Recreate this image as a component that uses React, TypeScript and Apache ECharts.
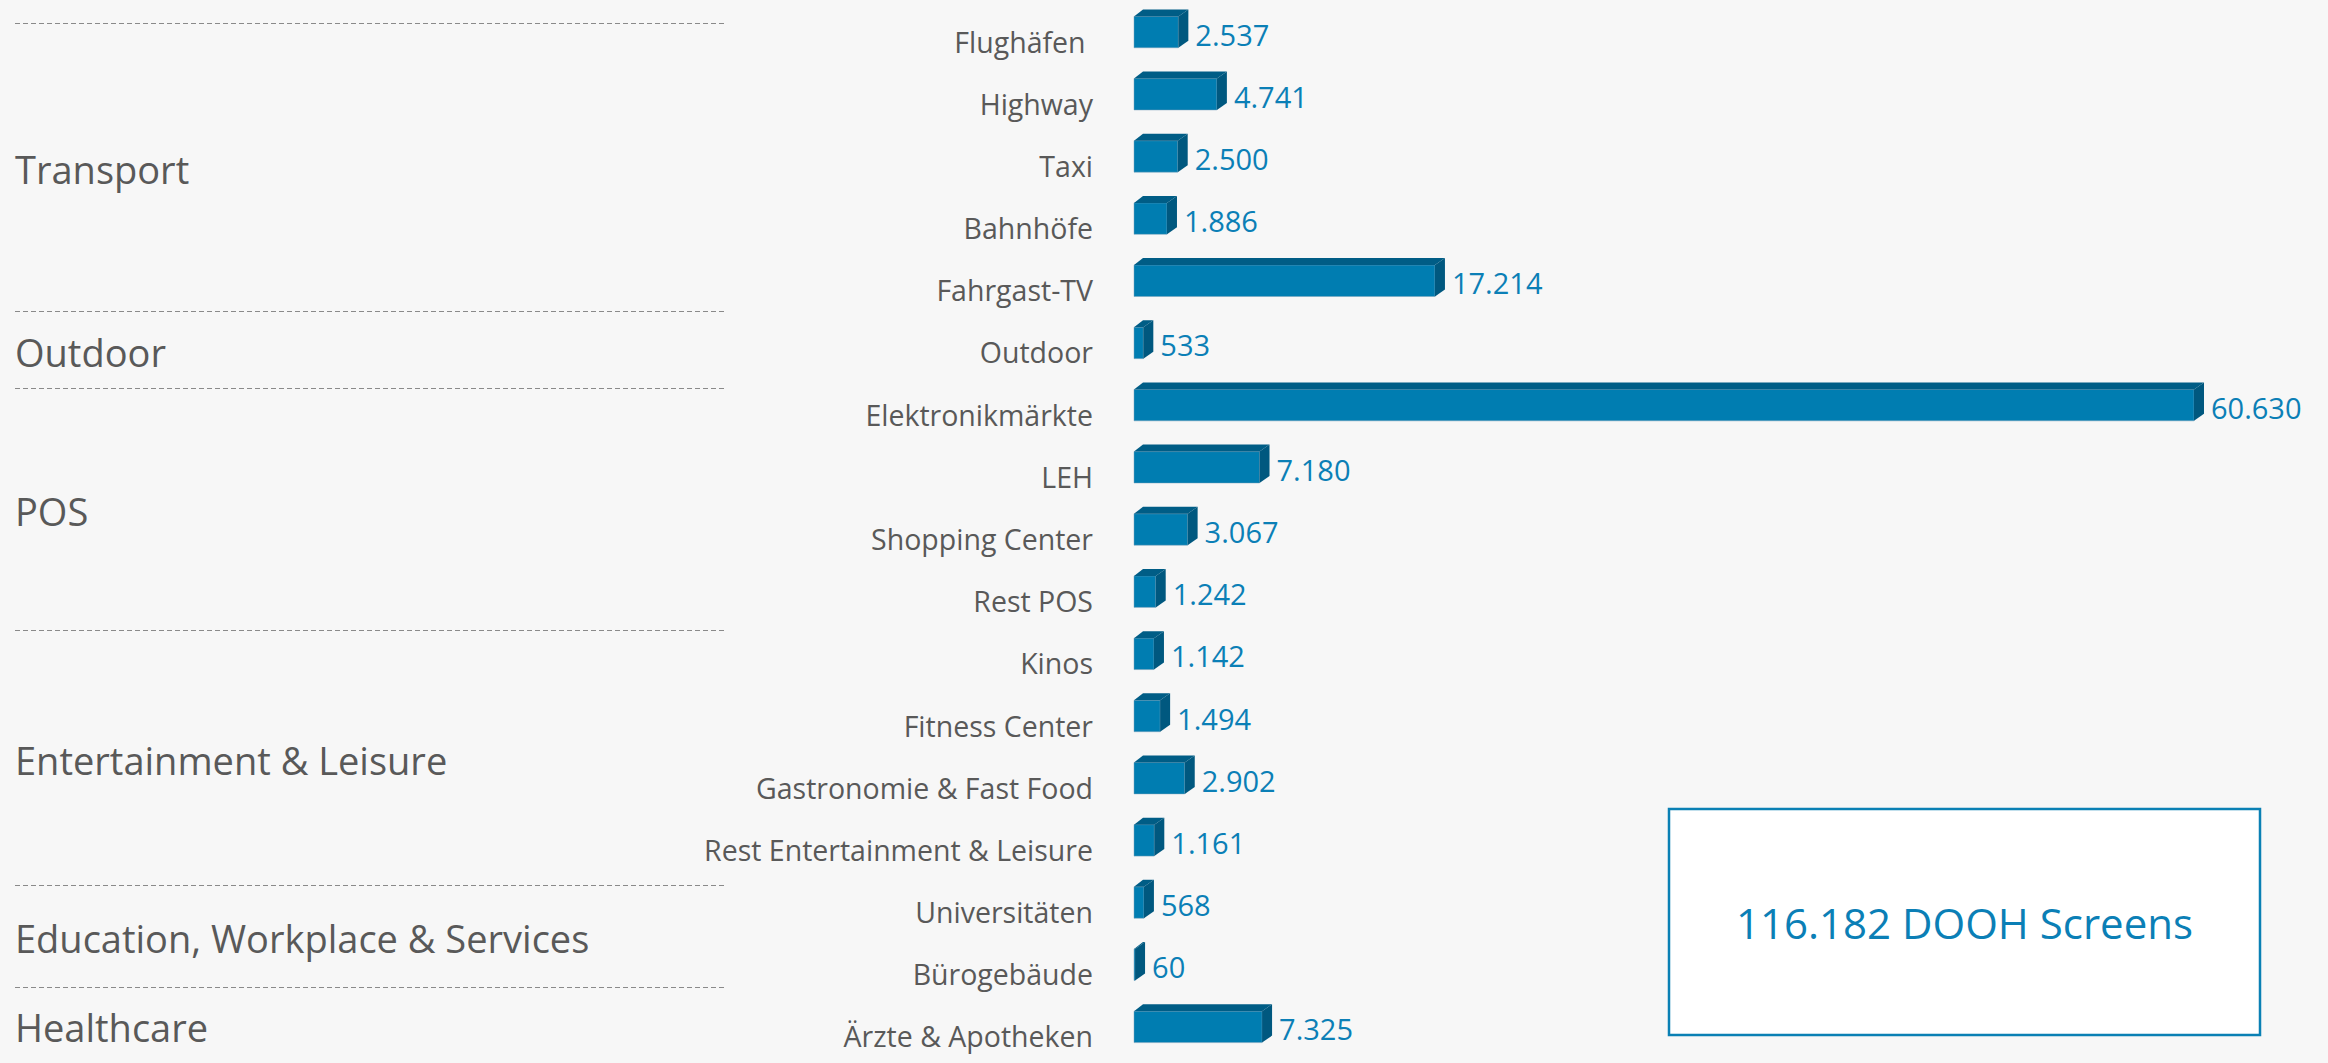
import React, { useEffect, useRef } from "react";
import * as echarts from "echarts";

// ---- data ----
const categories = [
  "Flughäfen ",
  "Highway",
  "Taxi",
  "Bahnhöfe",
  "Fahrgast-TV",
  "Outdoor",
  "Elektronikmärkte",
  "LEH",
  "Shopping Center",
  "Rest POS",
  "Kinos",
  "Fitness Center",
  "Gastronomie & Fast Food",
  "Rest Entertainment & Leisure",
  "Universitäten",
  "Bürogebäude",
  "Ärzte & Apotheken",
];
const screens = [2537, 4741, 2500, 1886, 17214, 533, 60630, 7180, 3067, 1242, 1142, 1494, 2902, 1161, 568, 60, 7325];
const groupNames = ["Transport", "Outdoor", "POS", "Entertainment & Leisure", "Education, Workplace & Services", "Healthcare"];
const groupSizes = [5, 1, 4, 4, 2, 1];
const totalSuffix = " DOOH Screens";

// ---- layout / style ----
const W = 2328;
const H = 1063;
const FONT = "'Open Sans', 'Noto Sans', sans-serif";
const BG = "#f7f7f7";
const TEXT_GREY = "#595959";
const BLUE_TEXT = "#0b7fb6";
const FRONT = "#007db1";
const TOP = "#005d86";
const SIDE = "#00587f";
const DX = 10;
const DY = 7;
const separatorY = [23, 311, 388, 630, 885, 987];
const sepX0 = 15;
const sepX1 = 727;

const fmt = (n: number) => String(Math.round(n)).replace(/\B(?=(\d{3})+(?!\d))/g, ".");

export default function App() {
  const ref = useRef<HTMLDivElement>(null);

  useEffect(() => {
    if (!ref.current) return;
    const chart = echarts.init(ref.current, undefined, { renderer: "svg" });

    const total = screens.reduce((a, b) => a + b, 0);

    const graphics: any[] = [];
    separatorY.forEach((y) => {
      graphics.push({
        type: "line",
        shape: { x1: sepX0, y1: y + 0.5, x2: sepX1, y2: y + 0.5 },
        style: { stroke: "#8a8a8a", lineWidth: 1, lineDash: [5, 3] },
        silent: true,
      });
    });
    groupNames.forEach((name, i) => {
      const y0 = separatorY[i];
      const y1 = i + 1 < separatorY.length ? separatorY[i + 1] : H;
      graphics.push({
        type: "text",
        x: 15,
        y: (y0 + y1) / 2 + 2,
        style: {
          text: name,
          fill: TEXT_GREY,
          fontSize: 38,
          fontFamily: FONT,
          align: "left",
          verticalAlign: "middle",
        },
        silent: true,
      });
    });
    // total box
    const bx = 1669, by = 809, bw = 591, bh = 226;
    graphics.push({
      type: "rect",
      shape: { x: bx, y: by, width: bw, height: bh },
      style: { fill: "#ffffff", stroke: "#0a80b4", lineWidth: 2.5 },
      silent: true,
    });
    graphics.push({
      type: "text",
      x: bx + bw / 2,
      y: by + bh / 2,
      style: {
        text: fmt(total) + totalSuffix,
        fill: BLUE_TEXT,
        fontSize: 42,
        fontFamily: FONT,
        align: "center",
        verticalAlign: "middle",
      },
      silent: true,
    });

    const gridLeft = 1134;
    const xMax = 65000;
    const pxPerUnit = 1060 / 60630;
    const gridWidth = xMax * pxPerUnit;

    chart.setOption({
      animation: false,
      backgroundColor: BG,
      textStyle: { fontFamily: FONT },
      grid: {
        left: gridLeft,
        width: gridWidth,
        top: 1,
        bottom: 5,
        containLabel: false,
      },
      xAxis: {
        type: "value",
        min: 0,
        max: xMax,
        show: false,
      },
      yAxis: {
        type: "category",
        data: categories,
        inverse: true,
        axisLine: { show: false },
        axisTick: { show: false },
        splitLine: { show: false },
        axisLabel: {
          margin: 41,
          fontSize: 28.5,
          color: TEXT_GREY,
          fontFamily: FONT,
          verticalAlign: "top",
          lineHeight: 19,
        },
      },
      series: [
        {
          type: "custom",
          data: screens.map((v, i) => [v, i]),
          encode: { x: 0, y: 1 },
          renderItem: (params: any, api: any) => {
            const v = api.value(0);
            const idx = api.value(1);
            const p1 = api.coord([v, idx]);
            const p0 = api.coord([0, idx]);
            const band = api.size([0, 1])[1];
            const h = band * 0.505;
            const x0 = p0[0];
            const x1 = Math.max(p1[0], x0 + 1);
            const yc = p1[1];
            const top = yc - h / 2;
            const bot = yc + h / 2;
            return {
              type: "group",
              children: [
                {
                  type: "rect",
                  shape: { x: x0, y: top, width: x1 - x0, height: h },
                  style: { fill: FRONT, stroke: "rgba(120,160,185,0.6)", lineWidth: 0.8 },
                },
                {
                  type: "polygon",
                  shape: { points: [[x0, top], [x0 + DX * 0.9, top - DY], [x1 + DX, top - DY], [x1, top]] },
                  style: { fill: TOP },
                },
                {
                  type: "polygon",
                  shape: { points: [[x1, top], [x1 + DX, top - DY], [x1 + DX, bot - DY], [x1, bot]] },
                  style: { fill: SIDE },
                },
                {
                  type: "text",
                  style: {
                    text: fmt(v),
                    x: x1 + DX + 7,
                    y: yc + 2,
                    align: "left",
                    verticalAlign: "middle",
                    fill: BLUE_TEXT,
                    fontSize: 29,
                    fontFamily: FONT,
                  },
                },
              ],
            };
          },
        },
      ],
      graphic: graphics,
    });

    return () => chart.dispose();
  }, []);

  return (
    <div
      ref={ref}
      style={{ position: "fixed", left: 0, top: 0, width: W, height: H, background: BG }}
    />
  );
}
